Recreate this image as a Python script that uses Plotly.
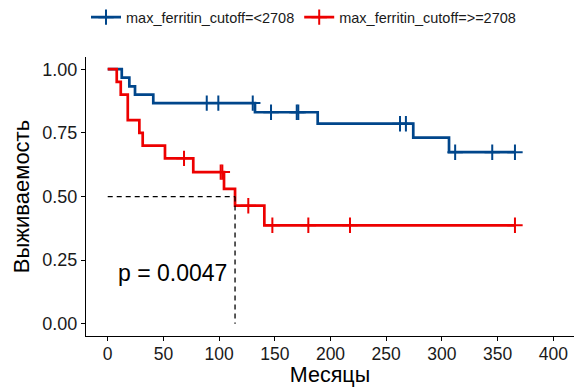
import numpy as np
import plotly.graph_objects as go

# ---- data ----
low_name = "max_ferritin_cutoff=<2708"
high_name = "max_ferritin_cutoff=>=2708"

low_time = [0, 12.6, 19.4, 24.5, 40.9, 132.2, 188.5, 274.3, 306.4, 365.6]
low_surv = [1.0, 0.967, 0.933, 0.900, 0.867, 0.831, 0.786, 0.731, 0.674, 0.674]
low_cens = [88.9, 99.3, 130.2, 146.6, 169.7, 171.1, 262.4, 267.7, 311.9, 345.2, 365.6]

high_time = [0, 8.1, 11.7, 18.0, 28.4, 31.4, 51.4, 76.8, 104.4, 114.3, 140.6, 365.6]
high_surv = [1.0, 0.95, 0.90, 0.80, 0.75, 0.70, 0.65, 0.596, 0.530, 0.464, 0.387, 0.387]
high_cens = [68.5, 101.4, 102.9, 126.2, 147.8, 180.1, 217.5, 365.6]

median_time = 114.3
median_surv = 0.5
p_text = "p = 0.0047"
p_pos = (7.5, 0.2)

x_ticks = [0, 50, 100, 150, 200, 250, 300, 350, 400]
y_ticks = [0.0, 0.25, 0.5, 0.75, 1.0]

BLUE = "#00468B"
RED = "#ED0000"
FONT = "Liberation Sans, Arial, sans-serif"


def surv_at(times, survs, t):
    idx = np.searchsorted(np.array(times), t, side="right") - 1
    return [survs[i] for i in idx]


fig = go.Figure()


def add_group(name, times, survs, cens, color):
    fig.add_trace(go.Scatter(x=times, y=survs, mode="lines", line=dict(color=color, width=2.7, shape="hv"),
                             legendgroup=name, showlegend=False, hoverinfo="skip"))
    fig.add_trace(go.Scatter(x=cens, y=surv_at(times, survs, cens), mode="markers",
                             marker=dict(symbol="cross-thin", size=11, line=dict(color=color, width=2)),
                             legendgroup=name, showlegend=False))
    fig.add_trace(go.Scatter(x=[None], y=[None], mode="lines+markers", name=name, legendgroup=name,
                             line=dict(color=color, width=2.7),
                             marker=dict(symbol="cross-thin", size=11, line=dict(color=color, width=2))))


add_group(low_name, low_time, low_surv, low_cens, BLUE)
add_group(high_name, high_time, high_surv, high_cens, RED)

# median lines
fig.add_trace(go.Scatter(x=[0, median_time], y=[median_surv, median_surv], mode="lines",
                         line=dict(color="black", width=1.3, dash="5px,4px"), showlegend=False, hoverinfo="skip"))
fig.add_trace(go.Scatter(x=[median_time, median_time], y=[median_surv, 0], mode="lines",
                         line=dict(color="black", width=1.3, dash="5px,4px"), showlegend=False, hoverinfo="skip"))

fig.add_annotation(x=p_pos[0], y=p_pos[1], text=p_text, showarrow=False, xanchor="left", yanchor="middle",
                   font=dict(family=FONT, size=23, color="black"))

fig.update_layout(
    width=574, height=387,
    margin=dict(l=86, r=0, t=57, b=51),
    paper_bgcolor="white", plot_bgcolor="white",
    font=dict(family=FONT, color="black"),
    legend=dict(orientation="h", x=0.0, xanchor="left", y=1.2, yanchor="top",
                font=dict(family=FONT, size=14.5, color="#1a1a1a"), itemwidth=30,
                bgcolor="rgba(0,0,0,0)", tracegroupgap=0),
    showlegend=True,
)
fig.update_xaxes(range=[-19.5, 418.6], tickvals=x_ticks, ticktext=[str(v) for v in x_ticks],
                 showgrid=False, zeroline=False, showline=True, linecolor="black", linewidth=1.3,
                 ticks="outside", ticklen=4, tickwidth=1.3, tickcolor="black", automargin=False,
                 ticklabelstandoff=-2,
                 tickfont=dict(family=FONT, size=17.5, color="#1a1a1a"),
                 title=dict(text="Месяцы", font=dict(family=FONT, size=21.5, color="black"), standoff=6))
fig.update_yaxes(range=[-0.0478, 1.048], tickvals=y_ticks, tickformat=".2f",
                 showgrid=False, zeroline=False, showline=True, linecolor="black", linewidth=1.3,
                 ticks="outside", ticklen=4, tickwidth=1.3, tickcolor="black", automargin=False,
                 tickfont=dict(family=FONT, size=18, color="#1a1a1a"),
                 title=dict(text="Выживаемость", font=dict(family=FONT, size=22, color="black"), standoff=6))

fig.write_html("out.html", config={"displayModeBar": False},
               post_script="document.body.style.margin='0px';")
